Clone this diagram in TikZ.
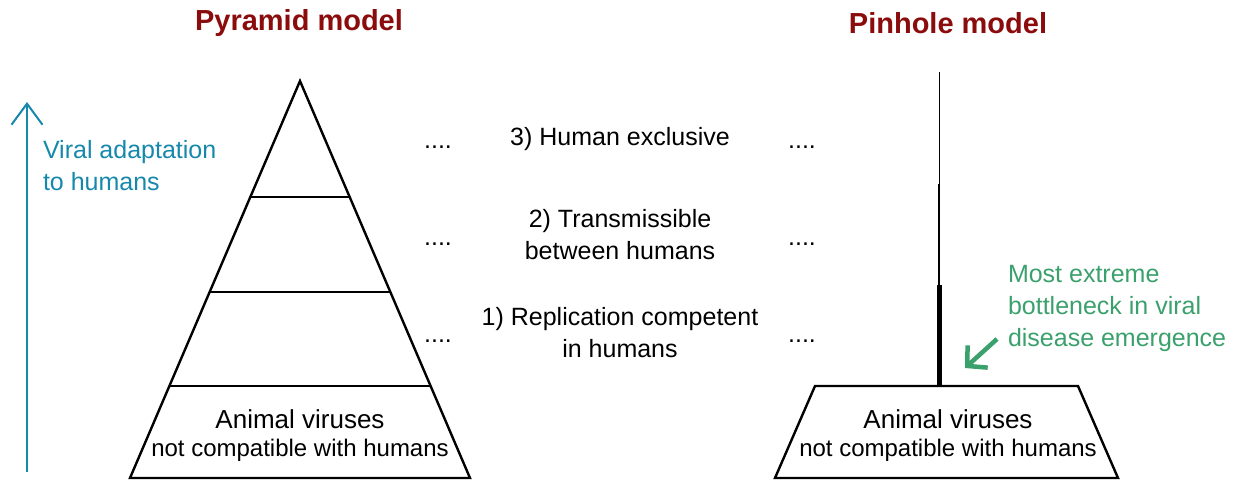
\documentclass[tikz,border=0pt]{standalone}
\usepackage{fontspec}
\setmainfont{Liberation Sans}
\usetikzlibrary{arrows, arrows.meta, calc, positioning}

\definecolor{titlered}{RGB}{139,12,12}
\definecolor{adaptblue}{RGB}{22,136,172}
\definecolor{neckgreen}{RGB}{58,160,108}

\begin{document}
\begin{tikzpicture}[x=1pt,y=-1pt,font=\fontsize{25}{32}\selectfont]
\tikzset{every node/.style={inner sep=0pt, outer sep=0pt}}

\tikzstyle{title}=[font=\fontsize{29}{34}\selectfont\bfseries, text=titlered]
\tikzstyle{level}=[align=center]
\tikzstyle{dots}=[]
\tikzstyle{base}=[align=center, font=\fontsize{26}{30}\selectfont]
\tikzstyle{outline}=[draw=black, line width=2.4pt, line join=miter]
\tikzstyle{adapt}=[draw=adaptblue, line width=2pt, -{Straight Barb[length=21pt, width=31pt, line width=2pt]}]
\tikzstyle{neck}=[draw=neckgreen, line width=4.5pt, -{Straight Barb[length=14pt, width=30pt, line width=4.5pt]}]

\useasboundingbox (0,0) rectangle (1243,480);

% titles
\node[title] (pyramid title) at (299,23) {Pyramid model};
\node[title] (pinhole title) at (948,23) {Pinhole model};

% pyramid corners and tier borders
\coordinate (apex) at (300,81);
\coordinate (pyr left) at (130,478);
\coordinate (pyr right) at (470,478);
\draw[outline] (pyr left) -- (apex) -- (pyr right) -- cycle;
\foreach \y/\w in {197/49.4, 292/90, 386/130.3} {
    \draw[outline] (300-\w,\y) -- (300+\w,\y);
};

% pinhole base and neck
\coordinate (trap top left) at (815,386);
\coordinate (trap top right) at (1078,386);
\coordinate (trap bottom left) at (775,478);
\coordinate (trap bottom right) at (1118,478);
\draw[outline] (trap bottom left) -- (trap top left) -- (trap top right) -- (trap bottom right) -- cycle;

\coordinate (neck base) at (939,386);
\coordinate (neck mid) at (939,285);
\coordinate (neck upper) at (939,184);
\coordinate (neck top) at (939,72);
\draw[line width=5pt] (neck base) -- (neck mid);
\draw[line width=2pt] (neck mid) -- (neck upper);
\draw[line width=0.8pt] (neck upper) -- (neck top);

\node[base] (pyramid base) at (300,436) {Animal viruses\\[-2pt]{\fontsize{24}{30}\selectfont not compatible with humans}};
\node[base] (pinhole base) at (948,436) {Animal viruses\\[-2pt]{\fontsize{24}{30}\selectfont not compatible with humans}};

% tier labels
\node[level] (tier three) at (620,139) {3) Human exclusive};
\node[level] (tier two) at (620,235) {2) Transmissible\\between humans};
\node[level] (tier one) at (620,333) {1) Replication competent\\in humans};

\foreach \y/\n in {147/three, 244/two, 341/one} {
    \node[dots] (left dots \n) at (438,\y) {....};
    \node[dots] (right dots \n) at (802,\y) {....};
};

% adaptation axis
\coordinate (axis bottom) at (27,472);
\coordinate (axis top) at (27,102);
\draw[adapt] (axis bottom) -- (axis top);
\node[text=adaptblue, align=left, anchor=north west] (adapt label) at (43,140) {Viral adaptation\\to humans};

% bottleneck note
\node[text=neckgreen, align=left, anchor=north west] (neck label) at (1008,265) {Most extreme\\bottleneck in viral\\disease emergence};
\coordinate (neck arrow start) at (997,339);
\coordinate (neck arrow end) at (965,368);
\draw[neck] (neck arrow start) -- (neck arrow end);

\end{tikzpicture}
\end{document}
